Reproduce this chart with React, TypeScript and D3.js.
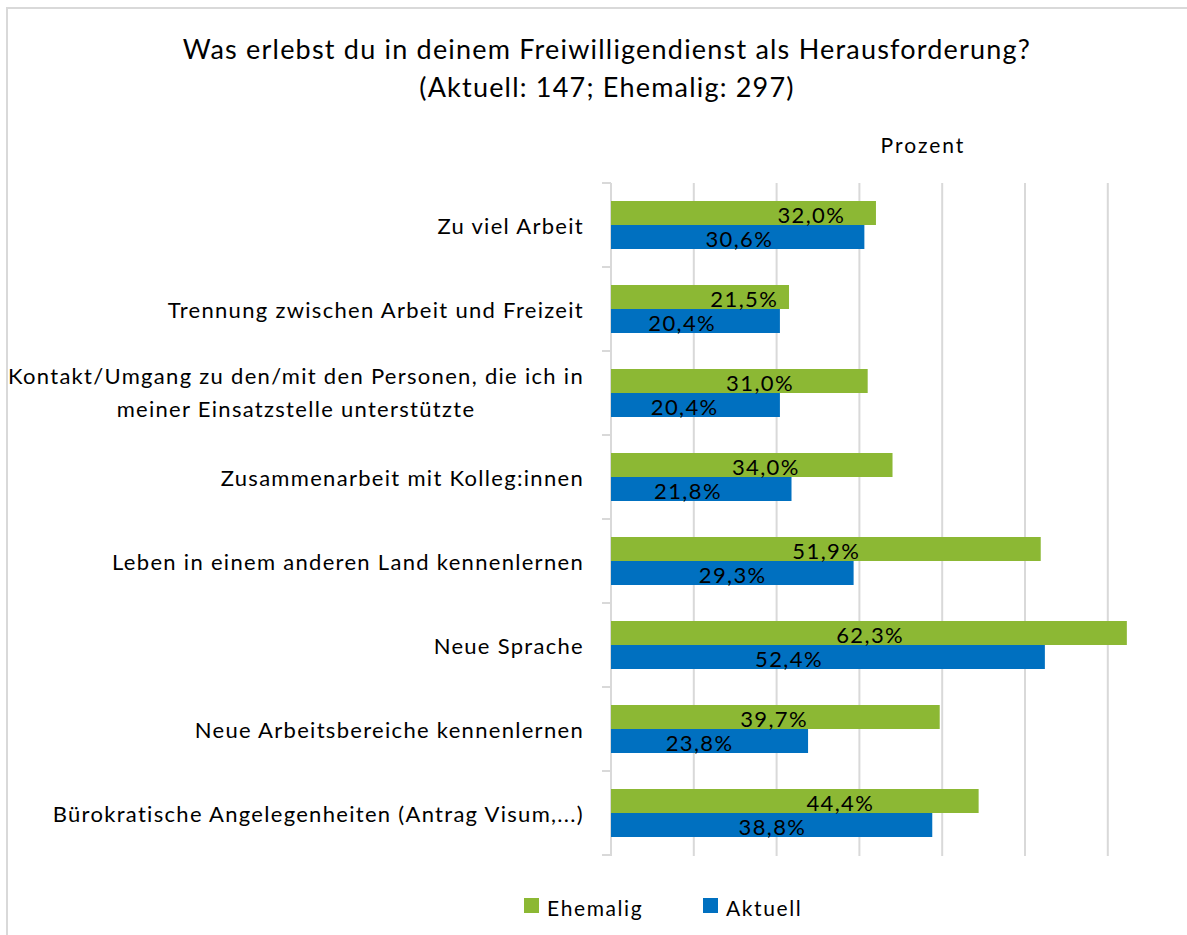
import React, { useLayoutEffect, useRef, useState } from "react";
import * as d3 from "d3";

const categories: string[][] = [
  ["Zu viel Arbeit"],
  ["Trennung zwischen Arbeit und Freizeit"],
  ["Kontakt/Umgang zu den/mit den Personen, die ich in", "meiner Einsatzstelle unterstützte"],
  ["Zusammenarbeit mit Kolleg:innen"],
  ["Leben in einem anderen Land kennenlernen"],
  ["Neue Sprache"],
  ["Neue Arbeitsbereiche kennenlernen"],
  ["Bürokratische Angelegenheiten (Antrag Visum,...)"],
];
const seriesNames = ["Ehemalig", "Aktuell"];
const ehemalig = [32.0, 21.5, 31.0, 34.0, 51.9, 62.3, 39.7, 44.4];
const aktuell = [30.6, 20.4, 20.4, 21.8, 29.3, 52.4, 23.8, 38.8];
// where the data labels sit, in percent units (as placed in the original)
const ehemaligLabelAt = [24.2, 16.1, 18.0, 18.7, 26.0, 31.3, 19.7, 27.7];
const aktuellLabelAt = [15.5, 8.6, 8.9, 9.3, 14.7, 21.5, 10.7, 19.5];
const gridTicks = [0, 10, 20, 30, 40, 50, 60];
const titleLines = [
  "Was erlebst du in deinem Freiwilligendienst als Herausforderung?",
  "(Aktuell: 147; Ehemalig: 297)",
];
const axisTitle = "Prozent";

const W = 1187;
const H = 935;
const FONT = "Lato, 'Open Sans', sans-serif";
const colors: Record<string, string> = { Ehemalig: "#8cb834", Aktuell: "#0070c0" };
const gridColor = "#d9d9d9";

const de = d3.formatLocale({ decimal: ",", thousands: ".", grouping: [3], currency: ["", "€"] });
const fmt = (v: number) => de.format(".1f")(v) + "%";

function CategoryLabel({ lines, right, baseY, lh }: { lines: string[]; right: number; baseY: number; lh: number }) {
  const ref = useRef<SVGTextElement>(null);
  const [w, setW] = useState(0);
  useLayoutEffect(() => {
    if (ref.current) {
      const bb = ref.current.getBBox();
      setW(bb.width);
    }
  }, [lines.join("|")]);
  if (lines.length === 1) {
    return (
      <text x={right} y={baseY} textAnchor="end" fontSize={22} letterSpacing={1.3} fill="#000">
        {lines[0]}
      </text>
    );
  }
  const cx = right - w / 2;
  return (
    <text ref={ref} textAnchor="middle" fontSize={22} letterSpacing={1.3} fill="#000">
      {lines.map((ln, j) => (
        <tspan key={j} x={cx} y={baseY + j * lh}>
          {ln}
        </tspan>
      ))}
    </text>
  );
}

export default function App() {
  const left = 611;
  const top = 183;
  const bottom = 855;
  const x = d3.scaleLinear().domain([0, 70]).range([left, left + 70 * 8.28]);
  const keys = categories.map((c) => c.join(" "));
  const y = d3.scaleBand<string>().domain(keys).range([top, bottom]).paddingInner(0).paddingOuter(0);
  const sub = d3.scaleBand<string>().domain(seriesNames).range([0, y.bandwidth()]).paddingInner(0).paddingOuter(0.75);
  const seriesData: Record<string, { vals: number[]; labels: number[] }> = {
    Ehemalig: { vals: ehemalig, labels: ehemaligLabelAt },
    Aktuell: { vals: aktuell, labels: aktuellLabelAt },
  };

  const boundaries = d3.range(keys.length + 1).map((i) => top + i * y.step());

  return (
    <svg
      width={W}
      height={H}
      style={{ position: "absolute", left: 0, top: 0, background: "#fff" }}
      fontFamily={FONT}
    >
      <rect x={0} y={0} width={W} height={H} fill="#fff" />
      <rect x={7} y={8} width={W + 20} height={H + 20} fill="none" stroke={gridColor} strokeWidth={2} />

      {/* Title */}
      {titleLines.map((t, i) => (
        <text key={i} x={607} y={59 + i * 38} textAnchor="middle" fontSize={27} letterSpacing={1.2} fill="#000">
          {t}
        </text>
      ))}
      <text x={923} y={153} textAnchor="middle" fontSize={21} letterSpacing={2} fill="#000">
        {axisTitle}
      </text>

      {/* gridlines */}
      {gridTicks.map((t) => (
        <line key={t} x1={x(t)} x2={x(t)} y1={top} y2={bottom + 1} stroke={gridColor} strokeWidth={2} />
      ))}
      {/* category axis ticks */}
      {boundaries.map((b, i) => (
        <line key={i} x1={x(0) - 9} x2={x(0)} y1={b} y2={b} stroke={gridColor} strokeWidth={2} />
      ))}

      {/* bars */}
      {seriesNames.map((s) =>
        seriesData[s].vals.map((v, i) => (
          <rect
            key={s + i}
            x={x(0)}
            y={(y(keys[i]) as number) + (sub(s) as number)}
            width={x(v) - x(0)}
            height={sub.bandwidth()}
            fill={colors[s]}
          />
        ))
      )}

      {/* data labels */}
      {seriesNames.map((s) =>
        seriesData[s].vals.map((v, i) => (
          <text
            key={"l" + s + i}
            x={x(seriesData[s].labels[i])}
            y={(y(keys[i]) as number) + (sub(s) as number) + sub.bandwidth() / 2 + 10}
            textAnchor="middle"
            fontSize={22}
            letterSpacing={1.4}
            fill="#000"
          >
            {fmt(v)}
          </text>
        ))
      )}

      {/* category labels */}
      {categories.map((lines, i) => {
        const cy = (y(keys[i]) as number) + y.bandwidth() / 2;
        const lh = 33;
        const base = cy + 9 - ((lines.length - 1) * lh) / 2 - (lines.length > 1 ? 2 : 0);
        return <CategoryLabel key={"c" + i} lines={lines} right={584} baseY={base} lh={lh} />;
      })}

      {/* legend */}
      {seriesNames.map((s, i) => {
        const lx = i === 0 ? 524 : 703;
        return (
          <g key={"lg" + s}>
            <rect x={lx} y={898} width={15} height={15} fill={colors[s]} />
            <text x={lx + 23} y={916} fontSize={21} letterSpacing={1.6} fill="#000">
              {s}
            </text>
          </g>
        );
      })}
    </svg>
  );
}
